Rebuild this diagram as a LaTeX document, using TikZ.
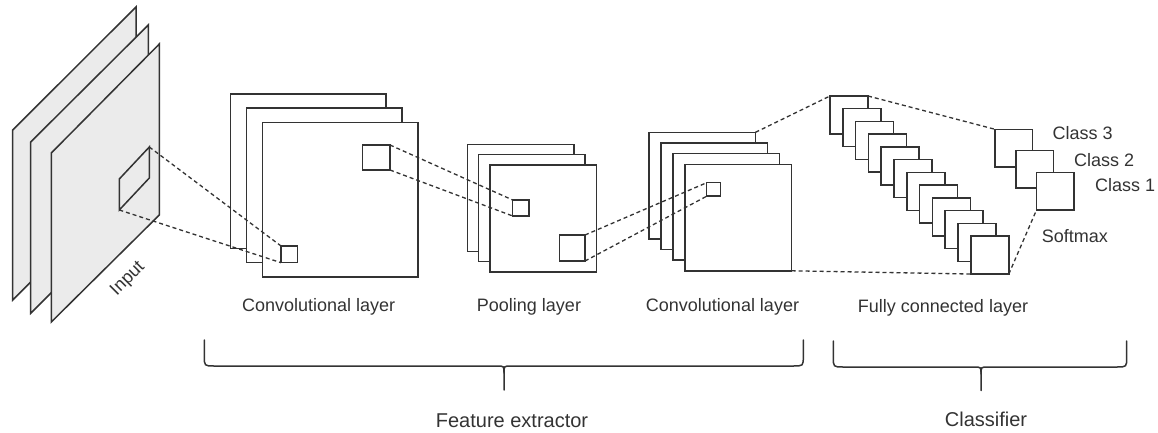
\documentclass[tikz,border=0pt]{standalone}
\usepackage{fontspec}
\setmainfont{Liberation Sans}
\definecolor{ink}{HTML}{333333}
\definecolor{sheet}{HTML}{EBEBEB}
\tikzset{
  edge/.style={draw=ink, line width=1.5pt, line join=miter},
  fmap/.style={edge, fill=white, rectangle, inner sep=0pt, outer sep=0pt, anchor=north west},
  win/.style={edge, rectangle, inner sep=0pt, outer sep=0pt, anchor=north west},
  link/.style={draw=ink, line width=1.3pt, dash pattern=on 4pt off 3pt},
  lbl/.style={text=ink, font=\fontsize{18}{20}\selectfont, inner sep=0pt, anchor=base},
  biglbl/.style={text=ink, font=\fontsize{20}{22}\selectfont, inner sep=0pt, anchor=base},
  bracket/.style={draw=ink, line width=1.5pt, line cap=round}
}
\begin{document}
\begin{tikzpicture}[x=1pt, y=-1pt]
\useasboundingbox (0,0) rectangle (1158,433);

% ---- input image: three slanted channels ----
\coordinate (p1a) at (12.7,130);  \coordinate (p1b) at (136,7);
\coordinate (p1c) at (136,177);   \coordinate (p1d) at (12.7,300);
\coordinate (p2a) at (30.7,142);  \coordinate (p2b) at (148.3,25);
\coordinate (p2c) at (148.3,196); \coordinate (p2d) at (30.7,313.3);
\coordinate (p3a) at (51.3,153);  \coordinate (p3b) at (159.3,44);
\coordinate (p3c) at (159.3,215); \coordinate (p3d) at (51.3,322);
\filldraw[edge, fill=sheet] (p1a) -- (p1b) -- (p1c) -- (p1d) -- cycle;
\filldraw[edge, fill=sheet] (p2a) -- (p2b) -- (p2c) -- (p2d) -- cycle;
\filldraw[edge, fill=sheet] (p3a) -- (p3b) -- (p3c) -- (p3d) -- cycle;
% receptive field on the input
\coordinate (ina) at (119.3,179); \coordinate (inb) at (149.3,147);
\coordinate (inc) at (149.3,178); \coordinate (ind) at (119.3,210);
\draw[edge] (ina) -- (inb) -- (inc) -- (ind) -- cycle;
\node[lbl, anchor=center, rotate=45] (lin) at (128,279) {Input};

% ---- first convolutional layer ----
\foreach \i/\x/\y in {0/230.7/94, 1/246.7/108.2, 2/262.7/122.3}
  \node[fmap, minimum width=155.5pt, minimum height=154.5pt] (ca\i) at (\x,\y) {};
\node[win, minimum width=16.7pt, minimum height=16.7pt] (caS) at (281,246) {};
\node[win, minimum width=27.3pt, minimum height=25pt] (caB) at (362.7,145) {};

% ---- pooling layer ----
\foreach \i/\x/\y in {0/467.3/144.3, 1/478.7/154.7, 2/490/165}
  \node[fmap, minimum width=106.5pt, minimum height=107pt] (pl\i) at (\x,\y) {};
\node[win, minimum width=16.3pt, minimum height=16pt] (plS) at (512.7,200) {};
\node[win, minimum width=25.7pt, minimum height=26pt] (plB) at (559.3,235) {};

% ---- second convolutional layer ----
\foreach \i/\x/\y in {0/649/132.3, 1/661/143, 2/673/153.7, 3/685/164.3}
  \node[fmap, minimum width=106.5pt, minimum height=106.5pt] (cb\i) at (\x,\y) {};
\node[win, minimum width=14pt, minimum height=13.5pt] (cbS) at (706.7,182.7) {};

% ---- fully connected layer ----
\foreach \i in {0,...,11}
  \node[fmap, minimum width=38pt, minimum height=38pt] (fc\i) at ({830+12.8*\i},{96+12.73*\i}) {};

% ---- softmax outputs ----
\node[fmap, minimum width=37.5pt, minimum height=37.5pt] (k3) at (995,129.3) {};
\node[fmap, minimum width=37.5pt, minimum height=37.5pt] (k2) at (1015.8,150.5) {};
\node[fmap, minimum width=37.5pt, minimum height=37.5pt] (k1) at (1036.5,172.5) {};

% ---- dashed projections ----
\draw[link] (inb) -- (caS.north west);
\draw[link] (ind) -- (caS.south west);
\draw[link] (caB.north east) -- (plS.north west);
\draw[link] (caB.south east) -- (plS.south west);
\draw[link] (plB.north east) -- (cbS.north west);
\draw[link] (plB.south east) -- (cbS.south west);
\draw[link] (cb0.north east) -- (fc0.north west);
\draw[link] (cb3.south east) -- (fc11.south west);
\draw[link] (fc0.north east) -- (k3.north west);
\draw[link] (fc11.south east) -- (k1.south west);

% ---- labels ----
\node[lbl] (lca) at (318.7,311.7) {Convolutional layer};
\node[lbl] (lpl) at (529,311.7) {Pooling layer};
\node[lbl] (lcb) at (722.5,311.7) {Convolutional layer};
\node[lbl] (lfc) at (943,312.7) {Fully connected layer};
\node[lbl, anchor=base west] (lk3) at (1052.3,139.3) {Class 3};
\node[lbl, anchor=base west] (lk2) at (1074,166) {Class 2};
\node[lbl, anchor=base west] (lk1) at (1095,191.7) {Class 1};
\node[lbl, anchor=base west] (lsm) at (1041.7,242.7) {Softmax};

% ---- grouping braces ----
\draw[bracket] (204.3,340) -- (204.3,356) .. controls (204.3,366) .. (214.3,366)
  -- (497,366) .. controls (504,366) .. (504,373) -- (504,390);
\draw[bracket] (504,373) .. controls (504,366) .. (511,366)
  -- (793.3,366) .. controls (803.3,366) .. (803.3,356) -- (803.3,340);
\draw[bracket] (833.3,341) -- (833.3,357) .. controls (833.3,367) .. (843.3,367)
  -- (974,367) .. controls (981,367) .. (981,374) -- (981,390.5);
\draw[bracket] (981,374) .. controls (981,367) .. (988,367)
  -- (1116.7,367) .. controls (1126.7,367) .. (1126.7,357) -- (1126.7,341);
\node[biglbl] (lfe) at (512,427) {Feature extractor};
\node[biglbl] (lcl) at (986,426.7) {Classifier};
\end{tikzpicture}
\end{document}
